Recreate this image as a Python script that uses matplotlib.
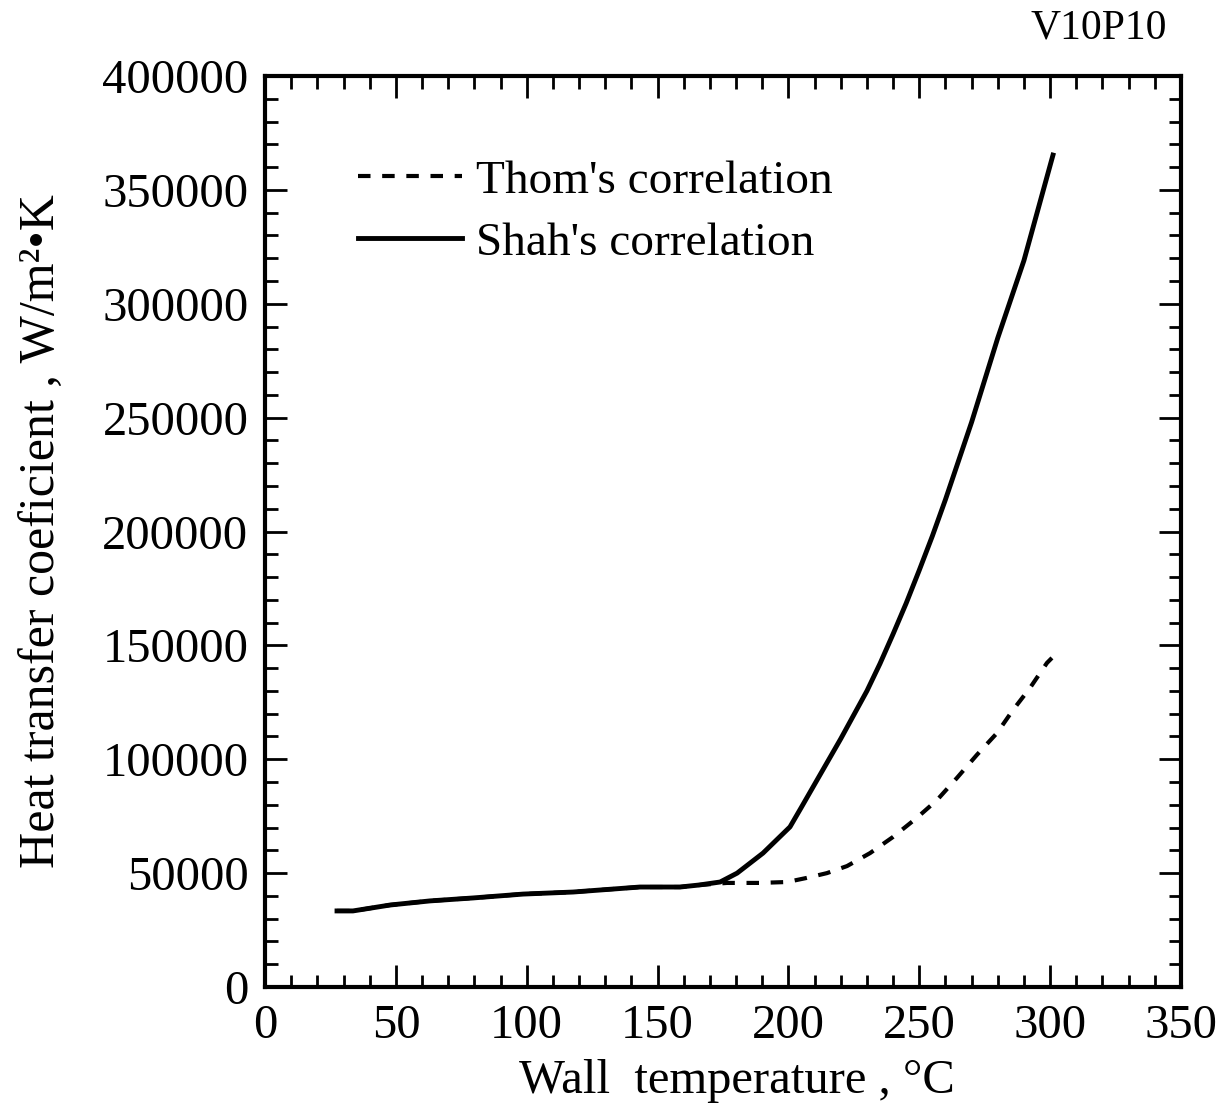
import matplotlib
matplotlib.use('Agg')
import matplotlib.pyplot as plt
from matplotlib.ticker import MultipleLocator

plt.rcParams['font.family'] = ['Liberation Serif', 'DejaVu Serif']

# Shah's correlation (solid)
shah_t = [27.5, 33.6, 47.8, 63, 79.5, 98.6, 117.7, 143.3, 158.6, 166, 173.9, 180.4,
          190.3, 200.6, 205, 210, 215, 220, 225, 230, 235, 240, 245, 250, 255, 260,
          270, 280, 290, 301.1]
shah_h = [33400, 33400, 36000, 37800, 39100, 40800, 41700, 43900, 43900, 44800, 46100, 50000,
          58800, 70300, 79000, 89000, 99000, 109000, 119500, 130000, 142000, 155000, 168500,
          183000, 198000, 214000, 248000, 285000, 319000, 365300]

# Thom's correlation (dashed)
thom_t = [27.5, 33.6, 47.8, 63, 79.5, 98.6, 117.7, 143.3, 158.6, 166, 176.5, 189, 199.5,
          207, 214.7, 222.4, 231.2, 240, 249, 256.8, 264.4, 272, 279.7, 285.8, 292.3,
          298.8, 300.7]
thom_h = [33400, 33400, 36000, 37800, 39100, 40800, 41700, 43900, 43900, 44800, 45700, 45700, 46100,
          47900, 50000, 53100, 58800, 65900, 74200, 82100, 91800, 101900, 111500, 121600, 131300,
          142300, 144500]

fig = plt.figure(figsize=(12.22, 11.15), dpi=100)
ax = fig.add_axes([0.2169, 0.1148, 0.7495, 0.817])

ax.plot(thom_t, thom_h, color='black', linewidth=3, linestyle=(0, (3, 2.8)),
        label="Thom's correlation")
ax.plot(shah_t, shah_h, color='black', linewidth=3.5, label="Shah's correlation")

ax.set_xlim(0, 350)
ax.set_ylim(0, 400000)
ax.xaxis.set_major_locator(MultipleLocator(50))
ax.xaxis.set_minor_locator(MultipleLocator(10))
ax.yaxis.set_major_locator(MultipleLocator(50000))
ax.yaxis.set_minor_locator(MultipleLocator(10000))

for s in ax.spines.values():
    s.set_linewidth(3)
ax.tick_params(which='both', direction='in', top=True, right=True, width=2)
ax.tick_params(which='major', length=16, labelsize=35, pad=12)
ax.tick_params(which='minor', length=9)

ax.set_xlabel('Wall  temperature , °C', fontsize=35, labelpad=8, x=0.515)
ax.set_ylabel('Heat transfer coeficient , W/m²•K', fontsize=36, labelpad=26)

ax.legend(loc='upper left', bbox_to_anchor=(0.055, 0.955), frameon=False, fontsize=34,
          handlelength=2.2, handletextpad=0.3, labelspacing=0.4)

fig.text(0.955, 0.975, 'V10P10', fontsize=30, ha='right', va='center')

fig.savefig('out.png', dpi=100)
